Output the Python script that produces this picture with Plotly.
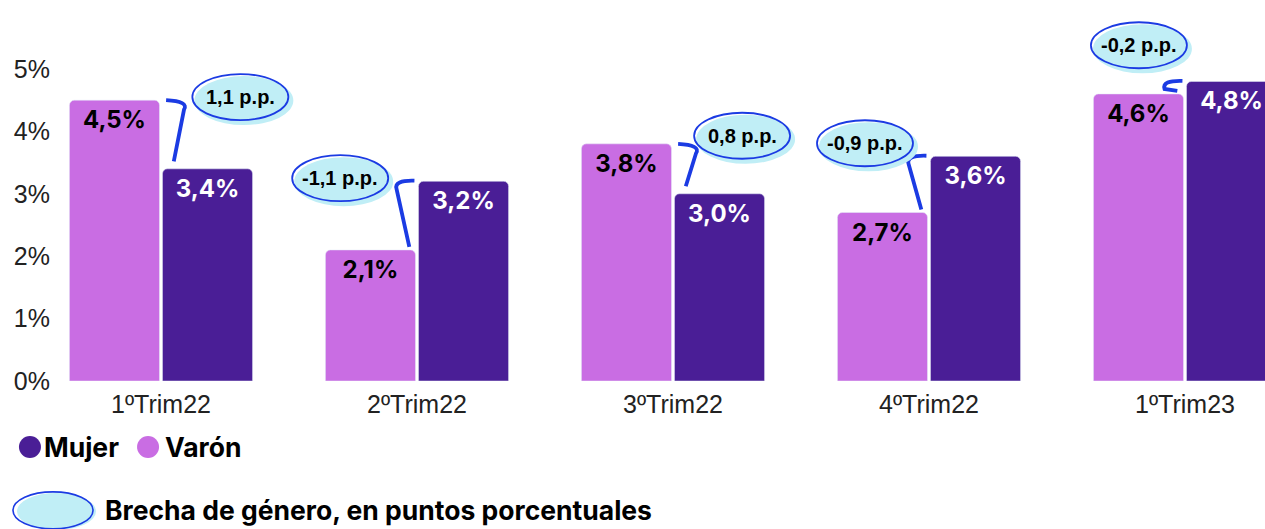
import plotly.graph_objects as go

# Datos: tasa por trimestre y sexo (%)
trimestres = ["1ºTrim22", "2ºTrim22", "3ºTrim22", "4ºTrim22", "1ºTrim23"]
varon = [4.5, 2.1, 3.8, 2.7, 4.6]
mujer = [3.4, 3.2, 3.0, 3.6, 4.8]
y_ticks = [0, 1, 2, 3, 4, 5]

# brecha = varón - mujer, en puntos porcentuales
brecha = [round(v - m, 1) for v, m in zip(varon, mujer)]

COL_VARON = "#C96DE3"
COL_MUJER = "#4A1E96"
COL_AZUL = "#1B3BE3"
COL_CIAN = "#C0EEF6"
FONT = "Inter"

# posicion de las burbujas respecto a cada grupo (unidades de eje)
bubble_dx = [0.31, -0.30, 0.27, -0.25, -0.18]
bubble_dy = [0.05, 0.05, 0.13, 0.21, 0.58]

fig = go.Figure()

fig.add_trace(go.Bar(
    x=list(range(len(trimestres))), y=varon, name="Varón",
    marker=dict(color=COL_VARON, cornerradius=5),
    texttemplate="%{y:.1f}%", textposition="inside", insidetextanchor="end",
    textfont=dict(family=FONT, size=24, color="black", weight="bold"),
    textangle=0, hoverinfo="skip",
))
fig.add_trace(go.Bar(
    x=list(range(len(trimestres))), y=mujer, name="Mujer",
    marker=dict(color=COL_MUJER, cornerradius=5),
    texttemplate="%{y:.1f}%", textposition="inside", insidetextanchor="end",
    textfont=dict(family=FONT, size=24, color="white", weight="bold"),
    textangle=0, hoverinfo="skip",
))

shapes = []
annotations = []

# conectores azules entre barras + burbujas con la brecha
for i, (v, m, b) in enumerate(zip(varon, mujer, brecha)):
    if v >= m:
        # baja desde la barra de varón hasta la de mujer
        path = (f"M {i + 0.02},{v} Q {i + 0.11},{v - 0.02} {i + 0.09},{v - 0.15} "
                f"L {i + 0.05},{m + 0.12}")
    else:
        # sube desde la barra de varón hasta la de mujer
        path = (f"M {i - 0.03},{v + 0.05} L {i - 0.08},{m - 0.12} "
                f"Q {i - 0.09},{m + 0.02} {i - 0.01},{m + 0.01}")
    shapes.append(dict(type="path", path=path, xref="x", yref="y",
                       line=dict(color=COL_AZUL, width=3.8)))

    cx = i + bubble_dx[i]
    cy = max(v, m) + bubble_dy[i]
    shapes.append(dict(type="circle", xref="x", yref="y", xsizemode="pixel", ysizemode="pixel",
                       xanchor=cx, yanchor=cy, x0=-46, x1=53, y0=-28, y1=21,
                       fillcolor=COL_CIAN, line=dict(width=0), layer="above"))
    shapes.append(dict(type="circle", xref="x", yref="y", xsizemode="pixel", ysizemode="pixel",
                       xanchor=cx, yanchor=cy, x0=-48, x1=48, y0=-23, y1=23,
                       fillcolor="rgba(0,0,0,0)", line=dict(color=COL_AZUL, width=1.8),
                       layer="above"))
    annotations.append(dict(x=cx, y=cy, xref="x", yref="y", showarrow=False,
                            text=f"{b:.1f} p.p.".replace(".", ",", 1),
                            font=dict(family="Liberation Sans", size=20, color="black",
                                      weight="bold")))

# leyenda manual
shapes += [
    dict(type="circle", xref="paper", yref="paper", xsizemode="pixel", ysizemode="pixel",
         xanchor=-0.0207, yanchor=-0.183, x0=-11, x1=11, y0=-11, y1=11,
         fillcolor=COL_MUJER, line=dict(width=0)),
    dict(type="circle", xref="paper", yref="paper", xsizemode="pixel", ysizemode="pixel",
         xanchor=0.0769, yanchor=-0.183, x0=-11, x1=11, y0=-11, y1=11,
         fillcolor=COL_VARON, line=dict(width=0)),
    dict(type="circle", xref="paper", yref="paper", xsizemode="pixel", ysizemode="pixel",
         xanchor=0.0, yanchor=-0.357, x0=-38, x1=41, y0=-20, y1=17,
         fillcolor=COL_CIAN, line=dict(width=0)),
    dict(type="circle", xref="paper", yref="paper", xsizemode="pixel", ysizemode="pixel",
         xanchor=0.0, yanchor=-0.357, x0=-42, x1=38, y0=-19, y1=18,
         fillcolor="rgba(0,0,0,0)", line=dict(color=COL_AZUL, width=1.6)),
]
legend_font = dict(family=FONT, size=26.5, color="black", weight="bold")
annotations += [
    dict(x=-0.0105, y=-0.183, xref="paper", yref="paper", xanchor="left", yanchor="middle",
         showarrow=False, text="Mujer", font=legend_font),
    dict(x=0.0895, y=-0.183, xref="paper", yref="paper", xanchor="left", yanchor="middle",
         showarrow=False, text="Varón", font=legend_font),
    dict(x=0.0395, y=-0.357, xref="paper", yref="paper", xanchor="left", yanchor="middle",
         showarrow=False, text="Brecha de género, en puntos porcentuales", font=legend_font),
]

fig.update_layout(
    width=1265, height=529,
    margin=dict(l=55, r=0, t=20, b=148),
    plot_bgcolor="white", paper_bgcolor="white",
    barmode="group", bargap=0.273, bargroupgap=0.032,
    separators=",.",
    showlegend=False,
    uniformtext=dict(mode=False),
    shapes=shapes, annotations=annotations,
)
fig.update_xaxes(
    range=[-0.414, 4.3125], tickmode="array",
    tickvals=list(range(len(trimestres))), ticktext=trimestres,
    showgrid=False, showline=False, zeroline=False, automargin=False,
    ticklabelstandoff=6,
    tickfont=dict(family="Liberation Sans", size=25, color="#222"),
)
fig.update_yaxes(
    range=[0, 5.785], tickmode="array", tickvals=y_ticks,
    ticktext=[f"{t}%" for t in y_ticks],
    showgrid=False, showline=False, zeroline=False, automargin=False,
    ticklabelstandoff=4,
    tickfont=dict(family="Liberation Sans", size=25, color="#222"),
)

# quitar el margen por defecto del body para que la figura ocupe toda la ventana
fig.write_html("out.html", config={"displayModeBar": False},
               post_script="document.body.style.margin='0';"
                           "document.body.style.overflow='hidden';")
